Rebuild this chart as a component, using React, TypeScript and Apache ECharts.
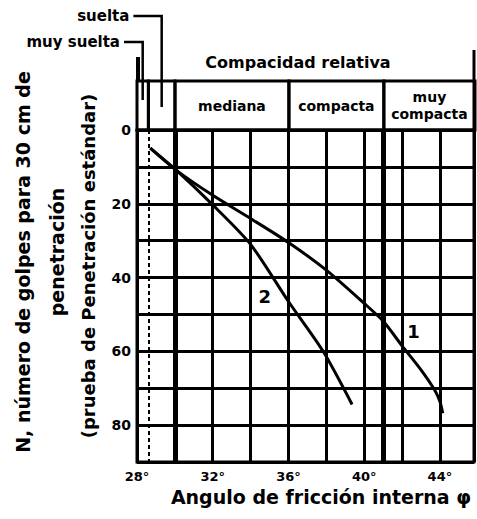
import React, { useEffect, useRef } from 'react';
import * as echarts from 'echarts';

// Curve 1 and curve 2: friction angle (deg) vs N (blows / 30 cm)
const phi1 = [28.7, 30.1, 32, 34, 36, 38, 40, 41, 42, 43, 43.7, 44.0, 44.15];
const n1 = [4.9, 11, 17.7, 24, 30.5, 38, 47, 51.8, 58.5, 65, 70.3, 73.6, 76.8];
const phi2 = [28.7, 30.1, 32, 34, 36, 37.83, 39.36];
const n2 = [4.9, 11, 20.3, 31, 46.5, 60, 74.4];
const curveNames = ['1', '2'];
const curveLabelAt = [[42.6, 54.5], [34.75, 45]];

const xTicks = [28, 32, 36, 40, 44];
const yTicks = [0, 20, 40, 60, 80];
const densityBounds = [28, 28.6, 30, 36, 41, 45.8];
const densityNames = ['muy suelta', 'suelta', 'mediana', 'compacta', 'muy\ncompacta'];
const heavyLines = [30, 41];
const dashedLines = [28.6];

const FONT = '"DejaVu Sans", sans-serif';

export default function App() {
  const ref = useRef<HTMLDivElement>(null);
  useEffect(() => {
    if (!ref.current) return;
    const chart = echarts.init(ref.current, null, { renderer: 'svg' });
    const headerData = densityNames.map((n, i) => [densityBounds[i], densityBounds[i + 1], i]);
    const option: any = {
      animation: false,
      backgroundColor: '#fff',
      grid: [
        { left: 137, right: 2, top: 130, bottom: 57, show: true, borderColor: '#000', borderWidth: 3 },
        { left: 137, right: 2, top: 81, height: 49 },
      ],
      xAxis: [
        {
          type: 'value', gridIndex: 0, min: 28, max: 45.8, interval: 2,
          axisLine: { show: true, lineStyle: { color: '#000', width: 3 } },
          axisTick: { show: false },
          axisLabel: {
            color: '#000', fontWeight: 'bold', fontSize: 13, fontFamily: FONT, margin: 8,
            formatter: (v: number) => (xTicks.includes(v) ? v + '°' : ''),
          },
          splitLine: { show: true, lineStyle: { color: '#000', width: 3 } },
        },
        { type: 'value', gridIndex: 1, min: 28, max: 45.8, show: false },
      ],
      yAxis: [
        {
          type: 'value', gridIndex: 0, min: 0, max: 90, interval: 10, inverse: true,
          axisLine: { show: true, lineStyle: { color: '#000', width: 3 } },
          axisTick: { show: false },
          axisLabel: {
            color: '#000', fontWeight: 'bold', fontSize: 14, fontFamily: FONT, margin: 6,
            formatter: (v: number) => (yTicks.includes(v) ? String(v) : ''),
          },
          splitLine: { show: true, lineStyle: { color: '#000', width: 3 } },
        },
        { type: 'value', gridIndex: 1, min: 0, max: 1, show: false },
      ],
      series: [
        {
          type: 'line', xAxisIndex: 0, yAxisIndex: 0, name: curveNames[0],
          data: phi1.map((p, i) => [p, n1[i]]),
          smooth: 0.25, showSymbol: false,
          lineStyle: { color: '#000', width: 3 },
          markLine: {
            silent: true, symbol: 'none', label: { show: false },
            data: [
              ...heavyLines.map((x) => ({ xAxis: x, lineStyle: { color: '#000', width: 5, type: 'solid' } })),
              ...dashedLines.map((x) => ({ xAxis: x, lineStyle: { color: '#000', width: 2, type: [4, 3] } })),
            ],
          },
          markPoint: {
            symbol: 'circle', symbolSize: 1, itemStyle: { color: 'transparent' },
            label: { show: true, color: '#000', fontSize: 18, fontWeight: 'bold', fontFamily: FONT, formatter: curveNames[0] },
            data: [{ coord: curveLabelAt[0] }],
          },
        },
        {
          type: 'line', xAxisIndex: 0, yAxisIndex: 0, name: curveNames[1],
          data: phi2.map((p, i) => [p, n2[i]]),
          smooth: 0.25, showSymbol: false,
          lineStyle: { color: '#000', width: 3 },
          markPoint: {
            symbol: 'circle', symbolSize: 1, itemStyle: { color: 'transparent' },
            label: { show: true, color: '#000', fontSize: 18, fontWeight: 'bold', fontFamily: FONT, formatter: curveNames[1] },
            data: [{ coord: curveLabelAt[1] }],
          },
        },
        {
          type: 'custom', xAxisIndex: 1, yAxisIndex: 1, silent: true,
          data: headerData,
          renderItem: (params: any, api: any) => {
            const x0 = api.value(0), x1 = api.value(1), i = api.value(2);
            const p0 = api.coord([x0, 1]);
            const p1 = api.coord([x1, 0]);
            const cx = (p0[0] + p1[0]) / 2, cy = (p0[1] + p1[1]) / 2;
            const children: any[] = [
              {
                type: 'rect',
                shape: { x: p0[0], y: p0[1], width: p1[0] - p0[0], height: p1[1] - p0[1] },
                style: { fill: 'none', stroke: '#000', lineWidth: 3 },
              },
            ];
            if (i === 0 || i === 1) {
              const ly = i === 0 ? p0[1] - 39 : p0[1] - 65;
              const tx = i === 0 ? p0[0] - 17 : p0[0] - 19;
              children.push({
                type: 'text',
                style: { text: densityNames[i], x: tx, y: ly, align: 'right', verticalAlign: 'middle', font: `bold 15px ${FONT}`, fill: '#000' },
              });
              children.push({
                type: 'polyline',
                shape: { points: [[tx + 4, ly], [cx, ly], [cx, p0[1] + (i === 0 ? 19 : 26)]] },
                style: { fill: 'none', stroke: '#000', lineWidth: 2.5 },
              });
              if (i === 0) {
                children.push({ type: 'line', shape: { x1: p0[0] + 1, y1: p0[1], x2: p0[0] + 1, y2: p0[1] - 24 }, style: { stroke: '#000', lineWidth: 4 } });
              }
            } else {
              children.push({
                type: 'text',
                style: { text: densityNames[i], x: cx, y: cy, align: 'center', verticalAlign: 'middle', font: `bold 14px ${FONT}`, fill: '#000', lineHeight: 17 },
              });
              if (i === densityNames.length - 1) {
                children.push({ type: 'line', shape: { x1: p1[0] - 1, y1: p1[1], x2: p1[0] - 1, y2: p0[1] - 31 }, style: { stroke: '#000', lineWidth: 3 } });
              }
            }
            return { type: 'group', children };
          },
        },
      ],
      graphic: [
        { type: 'text', x: 298, y: 62, style: { text: 'Compacidad relativa', align: 'center', verticalAlign: 'middle', font: `bold 16px ${FONT}`, fill: '#000' } },
        { type: 'text', x: 321, y: 497, style: { text: 'Angulo de fricción interna φ', align: 'center', verticalAlign: 'middle', font: `bold 19px ${FONT}`, fill: '#000' } },
        { type: 'text', x: 23, y: 262, rotation: Math.PI / 2, style: { text: 'N, número de golpes para 30 cm de', align: 'center', verticalAlign: 'middle', font: `bold 19px ${FONT}`, fill: '#000' } },
        { type: 'text', x: 57, y: 252, rotation: Math.PI / 2, style: { text: 'penetración', align: 'center', verticalAlign: 'middle', font: `bold 19px ${FONT}`, fill: '#000' } },
        { type: 'text', x: 88, y: 266, rotation: Math.PI / 2, style: { text: '(prueba de Penetración estándar)', align: 'center', verticalAlign: 'middle', font: `bold 18px ${FONT}`, fill: '#000' } },
      ],
    };
    chart.setOption(option);
    return () => chart.dispose();
  }, []);
  return <div ref={ref} style={{ position: 'fixed', left: 0, top: 0, width: 477, height: 519, background: '#fff' }} />;
}
